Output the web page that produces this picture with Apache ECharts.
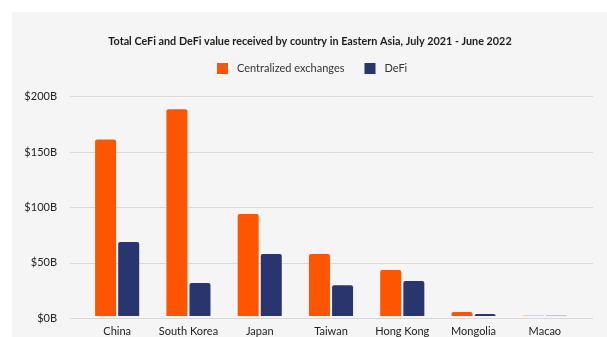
<!DOCTYPE html>
<html>
<head>
<meta charset="utf-8">
<script src="https://cdn.jsdelivr.net/npm/echarts@6/dist/echarts.min.js"></script>
<style>
  html, body { margin: 0; padding: 0; background: #ffffff; }
  #chart { width: 607px; height: 337px; }
</style>
</head>
<body>
<div id="chart"></div>
<script>
// Value received, billions of USD
const countries = ['China', 'South Korea', 'Japan', 'Taiwan', 'Hong Kong', 'Mongolia', 'Macao'];
const cefiValues = [161, 188.5, 93, 56.5, 42, 3.6, 0.3];
const defiValues = [67.5, 30, 56.5, 28, 32, 1.8, 0.15];
const yTicks = [0, 50, 100, 150, 200];

const FONT = 'Lato, "Open Sans", sans-serif';
const TOP = 96.7, BOTTOM = 337 - 318.3;
const PANEL_CENTER = 310;

const chart = echarts.init(document.getElementById('chart'), null, { renderer: 'canvas' });
chart.setOption({
  animation: false,
  backgroundColor: '#ffffff',
  graphic: [
    {
      type: 'rect', z: -10, silent: true,
      shape: { x: 12, y: 12, width: 595, height: 325 },
      style: { fill: '#f5f5f5' }
    },
    {
      type: 'text', silent: true, x: PANEL_CENTER, y: 42,
      style: {
        text: 'Total CeFi and DeFi value received by country in Eastern Asia, July 2021 - June 2022',
        align: 'center', verticalAlign: 'middle',
        font: 'bold 10.8px ' + FONT, fill: '#1c1c1c'
      }
    }
  ],
  legend: {
    top: 63, left: 217, padding: 0,
    itemWidth: 11, itemHeight: 11, itemGap: 20,
    icon: 'rect',
    textStyle: { fontFamily: FONT, fontSize: 11, color: '#333333', padding: [0, 0, 0, 4] },
    data: ['Centralized exchanges', 'DeFi']
  },
  grid: [
    { left: 70, right: 14, top: TOP, bottom: BOTTOM },
    { left: 81.5, right: 26.5, top: TOP, bottom: BOTTOM }
  ],
  xAxis: [
    { gridIndex: 0, type: 'category', data: countries, show: false },
    {
      gridIndex: 1, type: 'category', data: countries,
      axisLine: { show: false }, axisTick: { show: false },
      axisLabel: { interval: 0, margin: 10, fontFamily: FONT, fontSize: 11, color: '#222222' }
    }
  ],
  yAxis: [
    {
      gridIndex: 0, type: 'value', min: yTicks[0], max: yTicks[yTicks.length - 1], interval: 50,
      axisLine: { show: false }, axisTick: { show: false },
      axisLabel: {
        margin: 13, fontFamily: FONT, fontSize: 11, color: '#222222',
        formatter: v => '$' + v + 'B'
      },
      splitLine: { lineStyle: { color: '#d9d9d9', width: 1 } }
    },
    {
      gridIndex: 1, type: 'value', min: yTicks[0], max: yTicks[yTicks.length - 1], interval: 50,
      show: false, splitLine: { show: false }
    }
  ],
  series: [
    {
      name: 'Centralized exchanges', type: 'bar', xAxisIndex: 1, yAxisIndex: 1,
      data: cefiValues, barWidth: 21, barGap: '10%',
      itemStyle: { color: '#ff5500', borderRadius: [2, 2, 0, 0] }
    },
    {
      name: 'DeFi', type: 'bar', xAxisIndex: 1, yAxisIndex: 1,
      data: defiValues, barWidth: 21, barGap: '10%',
      itemStyle: { color: '#28356e', borderRadius: [2, 2, 0, 0] }
    }
  ]
});
</script>
</body>
</html>
